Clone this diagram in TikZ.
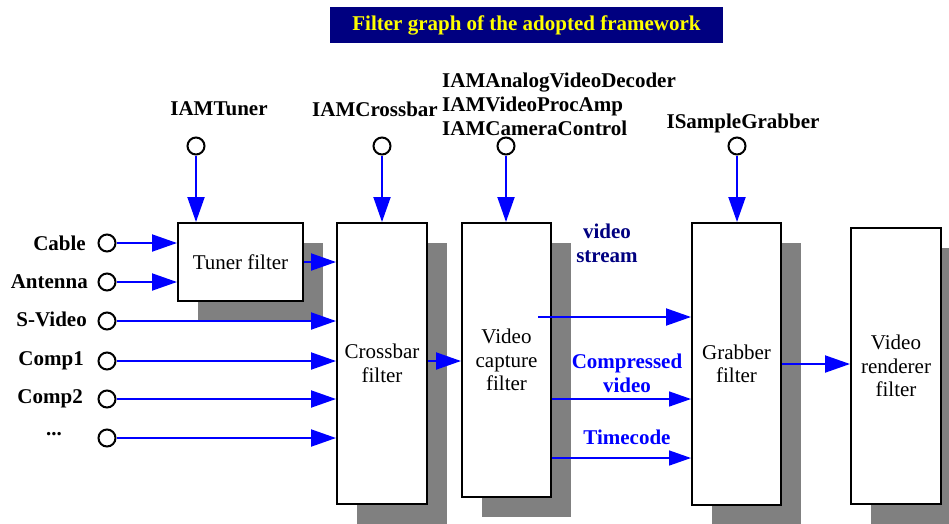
\documentclass[tikz,border=0pt]{standalone}
\usepackage{fontspec}
\setmainfont{Liberation Serif}
\usetikzlibrary{arrows.meta,shadows}
\definecolor{navyc}{RGB}{0,0,128}
\definecolor{bluec}{RGB}{0,0,255}
\definecolor{shadowc}{RGB}{128,128,128}
\definecolor{titley}{RGB}{255,255,0}
\tikzset{
  filterbox/.style={draw=black, line width=2pt, fill=white, inner sep=0pt, align=center,
    font=\fontsize{21}{23.5}\selectfont,
    general shadow={fill=shadowc, shadow xshift=20pt, shadow yshift=-20pt}},
  port/.style={circle, draw=black, line width=2pt, fill=white, minimum size=17pt, inner sep=0pt},
  lbl/.style={inner sep=0pt, font=\fontsize{21}{24}\selectfont\bfseries, align=center},
  flow/.style={draw=bluec, line width=2pt, -{Triangle[length=25pt,width=17pt]}},
  thinflow/.style={draw=bluec, line width=1.5pt, -{Triangle[length=22pt,width=15pt]}},
}
\begin{document}
\begin{tikzpicture}[x=1pt,y=-1pt]
\useasboundingbox (0,0) rectangle (949,523);
% title
\node[fill=navyc, minimum width=393pt, minimum height=36pt, inner sep=0pt,
      text=titley, font=\fontsize{21}{24}\selectfont\bfseries] (title) at (526.5,25) {Filter graph of the adopted framework};
% filter boxes
\node[filterbox, minimum width=125pt, minimum height=78pt] (tuner) at (240.5,262) {Tuner filter};
\node[filterbox, minimum width=90pt, minimum height=281pt] (cross) at (382,363.5) {Crossbar\\filter};
\node[filterbox, minimum width=89pt, minimum height=274pt] (cap) at (506.5,360) {Video\\capture\\filter};
\node[filterbox, minimum width=89pt, minimum height=282pt] (grab) at (736.5,364) {Grabber\\filter};
\node[filterbox, minimum width=90pt, minimum height=276pt] (rend) at (896,366) {Video\\renderer\\filter};
% top interfaces
\node[port] (ptuner) at (196,146) {};
\node[port] (pcross) at (382,146) {};
\node[port] (pcap) at (506,146) {};
\node[port] (pgrab) at (737,146) {};
\node[lbl] (ltuner) at (219,109) {IAMTuner};
\node[lbl] (lcross) at (375,109) {IAMCrossbar};
\node[lbl, anchor=west, align=left] (lcap) at (442,104) {IAMAnalogVideoDecoder\\IAMVideoProcAmp\\IAMCameraControl};
\node[lbl] (lgrab) at (743,123) {ISampleGrabber};
\draw[flow] (ptuner) -- (ptuner |- tuner.north);
\draw[flow] (pcross) -- (pcross |- cross.north);
\draw[flow] (pcap) -- (pcap |- cap.north);
\draw[flow] (pgrab) -- (pgrab |- grab.north);
% left inputs
\node[port] (pcable) at (107,243) {};
\node[port] (pant) at (107,282) {};
\node[port] (psv) at (107,321) {};
\node[port] (pc1) at (107,361) {};
\node[port] (pc2) at (107,399) {};
\node[port] (pdots) at (107,438) {};
\node[lbl, anchor=east] (lcable) at (86,243) {Cable};
\node[lbl, anchor=east] (lant) at (88,282) {Antenna};
\node[lbl, anchor=east] (lsv) at (87,319) {S-Video};
\node[lbl, anchor=east] (lc1) at (84,361) {Comp1};
\node[lbl, anchor=east] (lc2) at (83,399) {Comp2};
\node[lbl] (ldots) at (54,434) {...};
\draw[flow] (pcable) -- (pcable -| tuner.west);
\draw[flow] (pant) -- (pant -| tuner.west);
\draw[flow] (psv) -- (psv -| cross.west);
\draw[flow] (pc1) -- (pc1 -| cross.west);
\draw[flow] (pc2) -- (pc2 -| cross.west);
\draw[flow] (pdots) -- (pdots -| cross.west);
\draw[flow] (tuner.east) -- (tuner.east -| cross.west);
\coordinate (xc) at (0,361);
\draw[flow] (cross.east |- xc) -- (cap.west |- xc);
% capture outputs
\coordinate (vs) at (538,317);
\coordinate (cvy) at (0,399);
\coordinate (tcy) at (0,458);
\draw[flow] (vs) -- (vs -| grab.west);
\draw[thinflow] (cap.east |- cvy) -- (grab.west |- cvy);
\draw[thinflow] (cap.east |- tcy) -- (grab.west |- tcy);
\node[lbl, text=navyc] (lvs) at (607,243.5) {video\\stream};
\node[lbl, text=bluec] (lcv) at (627,373.5) {Compressed\\video};
\node[lbl, text=bluec] (ltc) at (627,437) {Timecode};
\draw[flow] (grab.east) -- (grab.east -| rend.west);
\end{tikzpicture}
\end{document}
